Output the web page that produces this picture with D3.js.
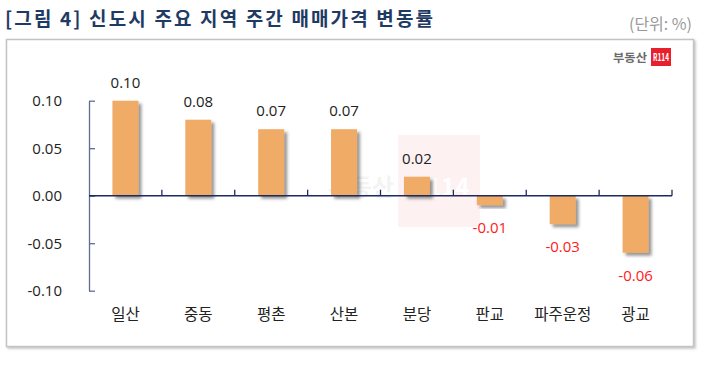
<!DOCTYPE html>
<html>
<head>
<meta charset="utf-8">
<script src="https://cdn.jsdelivr.net/npm/d3@7"></script>
<style>
  body { margin: 0; background: #fff; }
  svg { display: block; font-family: "Noto Sans CJK KR", "Noto Sans", sans-serif; }
</style>
</head>
<body>
<svg id="chart" width="710" height="367"></svg>
<script>
const categories = ['일산', '중동', '평촌', '산본', '분당', '판교', '파주운정', '광교'];
const values = [0.10, 0.08, 0.07, 0.07, 0.02, -0.01, -0.03, -0.06];
const yTicks = [-0.10, -0.05, 0.00, 0.05, 0.10];

// plain hyphen for negatives, as in the source chart
const fmt = d => d3.format('.2f')(d).replace('\u2212', '-');

const svg = d3.select('#chart');
const defs = svg.append('defs');

defs.append('filter').attr('id', 'barShadow')
  .attr('x', '-30%').attr('y', '-30%').attr('width', '160%').attr('height', '160%')
  .append('feDropShadow')
  .attr('dx', 3).attr('dy', 3).attr('stdDeviation', 1.6)
  .attr('flood-color', '#444').attr('flood-opacity', 0.55);

defs.append('filter').attr('id', 'boxShadow')
  .append('feDropShadow')
  .attr('dx', 1.5).attr('dy', 1.5).attr('stdDeviation', 1)
  .attr('flood-color', '#999').attr('flood-opacity', 0.6);

// title + unit
svg.append('text')
  .attr('x', 5).attr('y', 26)
  .attr('font-size', 19).attr('font-weight', 'bold')
  .attr('fill', '#1f3a63')
  .attr('textLength', 428).attr('lengthAdjust', 'spacing')
  .text('[그림 4] 신도시 주요 지역 주간 매매가격 변동률');

svg.append('text')
  .attr('x', 692).attr('y', 30)
  .attr('text-anchor', 'end')
  .attr('font-size', 16)
  .attr('fill', '#9a9a9a')
  .text('(단위: %)');

// frame
svg.append('rect')
  .attr('x', 6.5).attr('y', 39.5)
  .attr('width', 687).attr('height', 307)
  .attr('fill', '#fff')
  .attr('stroke', '#c4c4c4')
  .attr('stroke-width', 1.5)
  .attr('filter', 'url(#boxShadow)');

// logo
svg.append('text')
  .attr('x', 647).attr('y', 62)
  .attr('text-anchor', 'end')
  .attr('font-size', 11).attr('font-weight', 'bold')
  .attr('fill', '#6b6b6b')
  .attr('textLength', 34).attr('lengthAdjust', 'spacingAndGlyphs')
  .text('부동산');
svg.append('rect')
  .attr('x', 651).attr('y', 48).attr('width', 20).attr('height', 18)
  .attr('fill', '#e8202e');
svg.append('text')
  .attr('x', 661).attr('y', 61)
  .attr('text-anchor', 'middle')
  .attr('font-size', 10).attr('font-weight', 'bold')
  .attr('fill', '#fff')
  .attr('textLength', 16).attr('lengthAdjust', 'spacingAndGlyphs')
  .text('R114');

// scales
const x = d3.scaleBand().domain(categories).range([89, 672]).padding(0);
const y = d3.scaleLinear().domain([-0.10, 0.10]).range([290.7, 100.7]);
const barW = 26;

// faint watermark
const wm = svg.append('g').attr('opacity', 0.4);
wm.append('rect')
  .attr('x', 398).attr('y', 135).attr('width', 82).attr('height', 92)
  .attr('fill', '#fbdde1');
wm.append('text')
  .attr('x', 394).attr('y', 196)
  .attr('text-anchor', 'end')
  .attr('font-size', 24).attr('font-weight', 'bold')
  .attr('fill', '#e2e2e2')
  .text('부동산');
wm.append('text')
  .attr('x', 440).attr('y', 196)
  .attr('text-anchor', 'middle')
  .attr('font-size', 24).attr('font-weight', 'bold')
  .attr('fill', '#fff')
  .text('R114');

// bars
svg.append('g').selectAll('rect')
  .data(values)
  .join('rect')
  .attr('x', (d, i) => x(categories[i]) + x.bandwidth() / 2 - barW / 2)
  .attr('y', d => y(Math.max(0, d)))
  .attr('width', barW)
  .attr('height', d => Math.abs(y(d) - y(0)))
  .attr('fill', '#f0ab66')
  .attr('filter', 'url(#barShadow)');

// y axis
const yAxis = svg.append('g')
  .attr('transform', 'translate(89,0)')
  .call(d3.axisLeft(y)
    .tickValues(yTicks)
    .tickFormat(fmt)
    .tickSizeInner(-6)
    .tickSizeOuter(0)
    .tickPadding(27));
yAxis.select('.domain').attr('stroke', '#5d6c93').attr('stroke-width', 1.3);
yAxis.selectAll('.tick line').attr('stroke', '#5d6c93').attr('stroke-width', 1.3);
yAxis.selectAll('.tick text')
  .attr('font-size', 15)
  .attr('fill', '#222')
  .attr('font-family', '"Open Sans", "Noto Sans", sans-serif');

// x axis line at zero with upward ticks on band edges
const xAxis = svg.append('g');
xAxis.append('line')
  .attr('x1', x.range()[0]).attr('x2', x.range()[1])
  .attr('y1', y(0)).attr('y2', y(0))
  .attr('stroke', '#1c2a5c').attr('stroke-width', 1.4);
xAxis.selectAll('.xtick')
  .data(categories)
  .join('line')
  .attr('class', 'xtick')
  .attr('x1', d => x(d) + x.bandwidth())
  .attr('x2', d => x(d) + x.bandwidth())
  .attr('y1', y(0))
  .attr('y2', y(0) - 6)
  .attr('stroke', '#1c2a5c').attr('stroke-width', 1.3);

// category labels
const cat = svg.append('g')
  .attr('transform', 'translate(0,305)')
  .call(d3.axisBottom(x).tickSize(0).tickPadding(4));
cat.select('.domain').remove();
cat.selectAll('.tick text')
  .attr('font-size', 15.5)
  .attr('fill', '#222')
  .attr('font-family', '"Noto Sans CJK KR", sans-serif');

// value labels
svg.append('g').selectAll('text')
  .data(values)
  .join('text')
  .attr('x', (d, i) => x(categories[i]) + x.bandwidth() / 2)
  .attr('y', d => d >= 0 ? y(d) - 13 : y(d) + 28)
  .attr('text-anchor', 'middle')
  .attr('font-size', 15)
  .attr('font-family', '"Open Sans", "Noto Sans", sans-serif')
  .attr('fill', d => d >= 0 ? '#222' : '#ff1a1a')
  .text(fmt);
</script>
</body>
</html>
